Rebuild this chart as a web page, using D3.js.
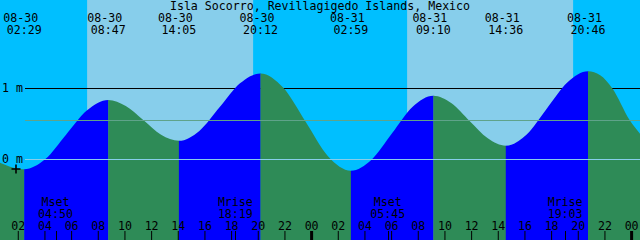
<!DOCTYPE html>
<html>
<head>
<meta charset="utf-8">
<script src="https://cdn.jsdelivr.net/npm/d3@7"></script>
<style>
  body { margin: 0; background: #fff; }
  svg { display: block; }
  text { font-family: "DejaVu Sans Mono", monospace; font-size: 11.6px; fill: #000; }
</style>
</head>
<body>
<svg width="640" height="240"></svg>
<script>
const parse = d3.timeParse("%m-%d %H:%M")
const fmtDate = d3.timeFormat("%m-%d")
const fmtTime = d3.timeFormat("%H:%M")

const title = "Isla Socorro, Revillagigedo Islands, Mexico"
const startTime = "08-30 00:40"
const endTime = "09-01 00:40"

// highs and lows
const tideTimes = ["08-30 02:29", "08-30 08:47", "08-30 14:05", "08-30 20:12",
                   "08-31 02:59", "08-31 09:10", "08-31 14:36", "08-31 20:46"]
const tideKind = ["L", "H", "L", "H", "L", "H", "L", "H"]

// water level, metres
const curveTimes = [
  "08-30 00:40", "08-30 01:36", "08-30 02:29", "08-30 04:03", "08-30 05:38", "08-30 07:12",
  "08-30 08:47", "08-30 10:06", "08-30 11:26", "08-30 12:45", "08-30 14:05", "08-30 15:37",
  "08-30 17:09", "08-30 18:40", "08-30 20:12", "08-30 21:54", "08-30 23:36", "08-31 01:17",
  "08-31 02:59", "08-31 04:32", "08-31 06:05", "08-31 07:37", "08-31 09:10", "08-31 10:32",
  "08-31 11:53", "08-31 13:15", "08-31 14:36", "08-31 16:09", "08-31 17:41", "08-31 19:14",
  "08-31 20:46", "08-31 21:41", "08-31 22:35", "08-31 23:54", "09-01 00:40"]
const curveHeights = [
  -0.05, -0.115, -0.14, 0.0, 0.35, 0.69,
  0.835, 0.75, 0.55, 0.345, 0.26, 0.40,
  0.735, 1.07, 1.21, 1.01, 0.525, 0.04,
  -0.16, -0.005, 0.37, 0.74, 0.895, 0.79,
  0.54, 0.295, 0.19, 0.345, 0.715, 1.085,
  1.24, 1.185, 1.0, 0.55, 0.36]

const sunrise = ["08-30 07:12", "08-31 07:12"]
const sunset = ["08-30 19:39", "08-31 19:39"]

const moonEvents = ["Mset", "Mrise", "Mset", "Mrise"]
const moonTimes = ["08-30 04:50", "08-30 18:19", "08-31 05:45", "08-31 19:03"]

const depthMarks = [0, 1]
const meanLevel = 0.55
const nowTime = "08-30 01:52"
const nowHeight = -0.13

let width = 640, height = 240
let svg = d3.select("svg")

let x = d3.scaleTime().domain([parse(startTime), parse(endTime)]).range([0, width])
let y = d3.scaleLinear().domain([0, 1]).range([159.3, 88.3])
const crisp = v => Math.round(v) + 0.5

// sky: night then day bands
svg.append("rect").attr("width", width).attr("height", height).attr("fill", "#00bfff")
svg.selectAll(".day").data(sunrise).enter().append("rect")
  .attr("class", "day")
  .attr("x", d => x(parse(d)))
  .attr("width", (d, i) => x(parse(sunset[i])) - x(parse(d)))
  .attr("y", 0)
  .attr("height", height)
  .attr("fill", "#87ceeb")

// 1 m line sits under the water
svg.append("line")
  .attr("x1", 25).attr("x2", width)
  .attr("y1", crisp(y(1))).attr("y2", crisp(y(1)))
  .attr("stroke", "#000")

// water, blue while rising, green while falling
let pts = curveTimes.map((t, i) => [parse(t), curveHeights[i]])
let area = d3.area()
  .x(d => x(d[0]))
  .y0(height)
  .y1(d => y(d[1]))
  .curve(d3.curveMonotoneX)

svg.append("clipPath").attr("id", "water")
  .append("path").attr("d", area(pts))

let bounds = [parse(startTime)].concat(tideTimes.map(parse), [parse(endTime)])
svg.append("g")
  .attr("clip-path", "url(#water)")
  .selectAll("rect").data(d3.pairs(bounds)).enter().append("rect")
  .attr("x", d => x(d[0]))
  .attr("width", d => x(d[1]) - x(d[0]) + 0.3)
  .attr("y", 0)
  .attr("height", height)
  .attr("fill", (d, i) => tideKind[i] === "H" ? "#0000ff" : "#2e8b57")

// datum and mean level lines go over the water
svg.append("line")
  .attr("x1", 25).attr("x2", width)
  .attr("y1", crisp(y(0))).attr("y2", crisp(y(0)))
  .attr("stroke", "#87ceeb")
svg.append("line")
  .attr("x1", 25).attr("x2", width)
  .attr("y1", crisp(y(meanLevel))).attr("y2", crisp(y(meanLevel)))
  .attr("stroke", "#5fa38a")

svg.selectAll(".depth").data(depthMarks).enter().append("text")
  .attr("class", "depth")
  .attr("x", 2)
  .attr("y", d => y(d) + 3.5)
  .text(d => d + " m")

// now marker
let nx = Math.round(x(parse(nowTime))), ny = Math.round(y(nowHeight))
svg.append("path")
  .attr("d", `M${nx - 4.5},${ny}H${nx + 4.5}M${nx},${ny - 4.5}V${ny + 4.5}`)
  .attr("stroke", "#000")
  .attr("stroke-width", 1.6)

// top labels
svg.append("text")
  .attr("x", width / 2).attr("y", 9.5)
  .attr("text-anchor", "middle")
  .text(title)

let ev = svg.selectAll(".ev").data(tideTimes).enter().append("g").attr("class", "ev")
ev.append("text")
  .attr("x", d => x(parse(d)) - 3.5).attr("y", 21.5)
  .attr("text-anchor", "middle")
  .text(d => fmtDate(parse(d)))
ev.append("text")
  .attr("x", d => x(parse(d))).attr("y", 33.5)
  .attr("text-anchor", "middle")
  .text(d => fmtTime(parse(d)))

// moon
let moon = svg.selectAll(".moon").data(moonTimes).enter().append("g").attr("class", "moon")
moon.append("text")
  .attr("x", d => x(parse(d))).attr("y", 206)
  .attr("text-anchor", "middle")
  .text((d, i) => moonEvents[i])
moon.append("text")
  .attr("x", d => x(parse(d))).attr("y", 217.8)
  .attr("text-anchor", "middle")
  .text(d => fmtTime(parse(d)))
moon.append("line")
  .attr("x1", d => crisp(x(parse(d)))).attr("x2", d => crisp(x(parse(d))))
  .attr("y1", 231).attr("y2", height)
  .attr("stroke", "#000")

// hour axis
let axis = d3.axisTop(x)
  .ticks(d3.timeHour.every(2))
  .tickFormat(d3.timeFormat("%H"))
  .tickSize(9)
  .tickPadding(1.5)

let ax = svg.append("g")
  .attr("transform", "translate(0," + height + ")")
  .call(axis)
ax.select(".domain").remove()
ax.selectAll(".tick line")
  .filter(d => d.getHours() === 0)
  .attr("stroke-width", 3)
</script>
</body>
</html>
